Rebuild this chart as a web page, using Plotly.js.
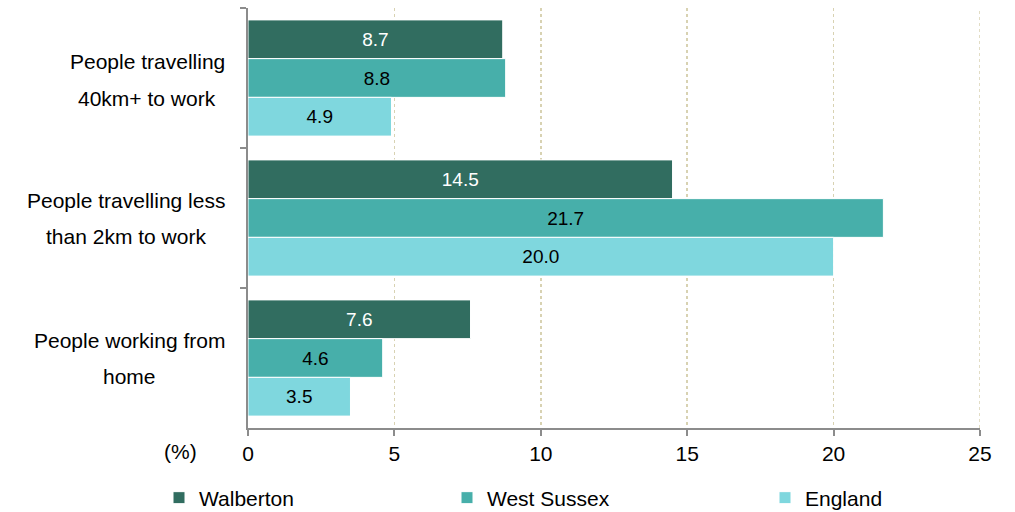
<!DOCTYPE html>
<html>
<head>
<meta charset="utf-8">
<script src="https://cdn.plot.ly/plotly-3.0.1.min.js"></script>
<style>
  html, body { margin: 0; padding: 0; background: #fff; }
  #chart { width: 1015px; height: 512px; }
</style>
</head>
<body>
<div id="chart"></div>
<script>
// ---- data ----
const categories = [
  "People travelling<br>40km+ to work",
  "People travelling less<br>than 2km to work",
  "People working from<br>home"
];
const seriesNames = ["Walberton", "West Sussex", "England"];
const walberton = [8.7, 14.5, 7.6];
const westSussex = [8.8, 21.7, 4.6];
const england = [4.9, 20.0, 3.5];
const xTicks = [0, 5, 10, 15, 20, 25];
const unitLabel = "(%)";

// ---- styling ----
const FONT = "Liberation Sans, Arial, sans-serif";
const colors = ["#316D60", "#47AFAA", "#7FD7DE"];
const textColors = ["#FFFFFF", "#000000", "#000000"];
const values = [walberton, westSussex, england];
const legendIds = ["legend", "legend2", "legend3"];
const GRID = "#D8D2B2";

const traces = values.map((v, i) => ({
  type: "bar",
  orientation: "h",
  name: seriesNames[i],
  x: v,
  y: categories,
  marker: { color: colors[i], line: { color: "#FFFFFF", width: 1 } },
  text: v.map(d => d.toFixed(1)),
  texttemplate: "%{text}",
  textposition: "inside",
  insidetextanchor: "middle",
  textangle: 0,
  constraintext: "none",
  textfont: { family: FONT, size: 19, color: textColors[i] },
  legend: legendIds[i],
  hoverinfo: "skip"
}));

// plot area pixel geometry
const L = 248, R = 35, T = 8, B = 84, W = 1015, H = 512;
const pw = W - L - R, ph = H - T - B;
const px2x = p => (p - L) / pw;
const px2y = p => (H - B - p) / ph;

// category labels: each line its own annotation, block right-aligned, lines centered
const canvas = document.createElement("canvas");
const ctx = canvas.getContext("2d");
ctx.font = "21px 'Liberation Sans'";
const annotations = [];
const catCenters = [80, 218, 358];
const labelRight = 225;
categories.forEach((c, i) => {
  const lines = c.split("<br>");
  const widths = lines.map(s => ctx.measureText(s).width);
  const block = Math.max(...widths);
  const cx = labelRight - block / 2;
  const lineGap = 36;
  lines.forEach((s, j) => {
    const cy = catCenters[i] + (j - (lines.length - 1) / 2) * lineGap;
    annotations.push({
      xref: "paper", yref: "paper",
      x: px2x(cx), y: px2y(cy),
      xanchor: "center", yanchor: "middle",
      text: s, showarrow: false,
      font: { family: FONT, size: 21, color: "#000" }
    });
  });
});
annotations.push({
  xref: "paper", yref: "paper",
  x: px2x(180), y: px2y(451),
  xanchor: "center", yanchor: "middle",
  text: unitLabel, showarrow: false,
  font: { family: FONT, size: 21, color: "#000" }
});

const legendX = [159, 447, 765];
const legendBase = {
  orientation: "h",
  yanchor: "middle", xanchor: "left",
  y: px2y(498),
  font: { family: FONT, size: 21, color: "#000" },
  bgcolor: "rgba(0,0,0,0)",
  itemclick: false, itemdoubleclick: false
};

const xMax = xTicks[xTicks.length - 1];

const layout = {
  width: W, height: H,
  margin: { l: L, r: R, t: T, b: B, pad: 0, autoexpand: false },
  paper_bgcolor: "#FFFFFF",
  plot_bgcolor: "#FFFFFF",
  barmode: "group",
  bargap: 0.17,
  bargroupgap: 0,
  hovermode: false,
  font: { family: FONT, size: 21, color: "#000" },
  xaxis: {
    range: [0, xMax],
    tickvals: xTicks,
    ticktext: xTicks.map(String),
    showgrid: true,
    gridcolor: GRID,
    griddash: "dot",
    gridwidth: 1.5,
    zeroline: false,
    showline: true,
    linecolor: "#8C8C8C",
    linewidth: 2,
    ticks: "outside",
    ticklen: 6,
    tickwidth: 2,
    tickcolor: "#8C8C8C",
    tickfont: { family: FONT, size: 21, color: "#000" },
    automargin: false,
    fixedrange: true
  },
  yaxis: {
    type: "category",
    autorange: "reversed",
    showticklabels: false,
    showgrid: false,
    zeroline: false,
    showline: true,
    linecolor: "#8C8C8C",
    linewidth: 2,
    ticks: "outside",
    tickson: "boundaries",
    ticklen: 6,
    tickwidth: 2,
    tickcolor: "#8C8C8C",
    automargin: false,
    fixedrange: true
  },
  shapes: [{
    type: "line", xref: "x", yref: "paper",
    x0: xMax, x1: xMax, y0: 0, y1: 1,
    line: { color: GRID, width: 1.5, dash: "dot" },
    layer: "below"
  }],
  showlegend: true,
  legend: Object.assign({}, legendBase, { x: px2x(legendX[0]) }),
  legend2: Object.assign({}, legendBase, { x: px2x(legendX[1]) }),
  legend3: Object.assign({}, legendBase, { x: px2x(legendX[2]) }),
  annotations: annotations
};

Plotly.newPlot("chart", traces, layout, { displayModeBar: false, staticPlot: true });
</script>
</body>
</html>
